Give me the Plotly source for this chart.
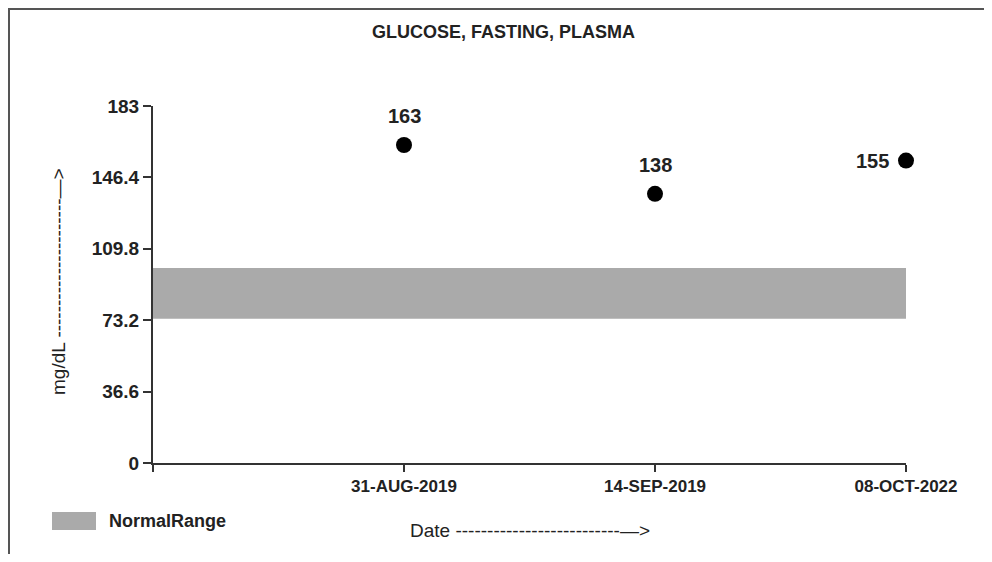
import plotly.graph_objects as go

# ---- data ----
dates = ["31-AUG-2019", "14-SEP-2019", "08-OCT-2022"]
values = [163, 138, 155]
normal_low = 74
normal_high = 100
y_ticks = [0, 36.6, 73.2, 109.8, 146.4, 183]
y_tick_labels = ["0", "36.6", "73.2", "109.8", "146.4", "183"]
title_text = "GLUCOSE, FASTING, PLASMA"
legend_label = "NormalRange"

FONT = "Liberation Sans Narrow, Arial Narrow, Liberation Sans, Arial, sans-serif"
OFF = 8  # page body margin
W, H = 976, 546
L, T = 145, 98
R = W - 898
B = H - 455
PW, PH = W - L - R, H - T - B


def px(x):
    return (x - OFF - L) / PW


def py(y):
    return (H - B - (y - OFF)) / PH


n = len(dates)
xpos = list(range(1, n + 1))

fig = go.Figure()

# normal range band
fig.add_trace(go.Scatter(
    x=[0, n, n, 0, 0],
    y=[normal_low, normal_low, normal_high, normal_high, normal_low],
    fill="toself", fillcolor="#aaaaaa", mode="lines",
    line=dict(width=0, color="#aaaaaa"),
    showlegend=False, hoverinfo="skip",
))

# values
fig.add_trace(go.Scatter(
    x=xpos, y=values, mode="markers",
    marker=dict(size=16, color="#000000"),
    cliponaxis=False, showlegend=False,
))

fig.update_layout(
    width=W, height=H,
    margin=dict(l=L, r=R, t=T, b=B),
    paper_bgcolor="white", plot_bgcolor="white",
    showlegend=False,
    font=dict(family=FONT, color="#222222"),
)

fig.update_xaxes(
    range=[0, n], tickvals=[0] + xpos, ticktext=[""] + dates,
    showline=True, linecolor="#333333", linewidth=2,
    ticks="outside", ticklen=7, tickwidth=2, tickcolor="#333333",
    showgrid=False, zeroline=False,
    tickfont=dict(family=FONT, size=17, color="#222222", weight="bold"),
)
fig.update_yaxes(
    range=[0, 183], tickvals=y_ticks, ticktext=y_tick_labels,
    showline=True, linecolor="#333333", linewidth=2,
    ticks="outside", ticklen=8, tickwidth=2, tickcolor="#333333",
    showgrid=False, zeroline=False,
    tickfont=dict(family=FONT, size=19, color="#222222", weight="bold"),
)

annotations = [
    dict(text="<b>" + title_text + "</b>", x=px(503), y=py(32), xref="paper", yref="paper",
         showarrow=False, font=dict(family=FONT, size=18, color="#222222"),
         xanchor="center", yanchor="middle"),
    dict(text="mg/dL " + "-" * 22 + "—>", x=px(58), y=py(282), xref="paper", yref="paper",
         showarrow=False, textangle=-90, font=dict(family=FONT, size=19, color="#222222"),
         xanchor="center", yanchor="middle"),
    dict(text="Date " + "-" * 26 + "—>", x=px(530), y=py(530), xref="paper", yref="paper",
         showarrow=False, font=dict(family=FONT, size=19, color="#222222"),
         xanchor="center", yanchor="middle"),
    dict(text="<b>" + legend_label + "</b>", x=px(107), y=py(521), xref="paper", yref="paper",
         showarrow=False, font=dict(family=FONT, size=18, color="#222222"),
         xanchor="left", yanchor="middle"),
]
# value labels: above the first points, left of the last one
for i, (xv, v) in enumerate(zip(xpos, values)):
    last = i == n - 1
    annotations.append(dict(
        text="<b>%d</b>" % v, x=xv, y=v, xref="x", yref="y", showarrow=False,
        xshift=-34 if last else 0, yshift=0 if last else 29,
        font=dict(family=FONT, size=20, color="#222222"),
        xanchor="center", yanchor="middle",
    ))
fig.update_layout(annotations=annotations)

shapes = [
    # legend swatch
    dict(type="rect", xref="paper", yref="paper", x0=px(52), x1=px(96), y0=py(530), y1=py(512),
         fillcolor="#aaaaaa", line=dict(width=0)),
    # outer frame (left, top)
    dict(type="line", xref="paper", yref="paper", x0=-L / PW + 1 / PW, x1=-L / PW + 1 / PW,
         y0=(H - B - 1) / PH, y1=-B / PH, line=dict(color="#555555", width=2)),
    dict(type="line", xref="paper", yref="paper", x0=-L / PW, x1=(W - L) / PW,
         y0=(H - B - 1) / PH, y1=(H - B - 1) / PH, line=dict(color="#555555", width=2)),
]
fig.update_layout(shapes=shapes)

fig.write_html("out.html")
